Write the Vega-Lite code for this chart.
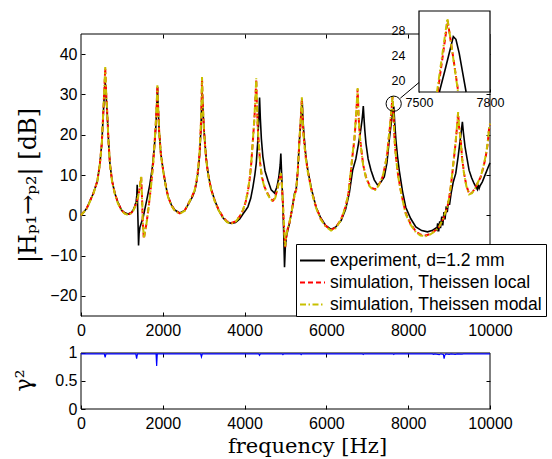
{
"$schema":"https://vega.github.io/schema/vega-lite/v6.json",
"width":409,"height":398,
"autosize":{"type":"none"},
"padding":{"left":81,"top":11,"right":62,"bottom":50},
"background":"white",
"config":{"view":{"stroke":null},"axis":{"grid":false,"labelFont":"Liberation Sans","labelFontSize":16,"labelColor":"black","tickColor":"black","domainColor":"black","titleFont":"DejaVu Serif","titleFontWeight":"normal","titleColor":"black","labelFlush":false,"labelOverlap":false}},
"datasets":{
"exp":[[0,0],[140,1.7],[300,5.4],[400,8.5],[463,12.9],[510,18],[544,25],[570,30],[593,33],[612,30],[642,25],[675,18],[707,12.9],[760,8.5],[829,5.4],[900,3.3],[992,1.3],[1070,0.6],[1154,0.3],[1230,0.7],[1276,1.3],[1317,2.3],[1350,3.5],[1365,5],[1374,7.6],[1385,2],[1400,-4],[1407,-7.5],[1420,-4.5],[1440,-3],[1520,-0.5],[1602,3.5],[1680,7.5],[1740,11.5],[1790,16.5],[1830,22],[1852,27],[1870,31.9],[1885,27],[1910,21.1],[1950,15.5],[2008,11.2],[2070,7.5],[2130,4.6],[2210,2.6],[2293,1.3],[2415,0.6],[2537,1.2],[2640,3],[2720,4.5],[2780,6],[2830,8.5],[2862,10.8],[2900,15],[2930,21],[2950,27],[2962,31],[2978,27],[3003,22],[3030,18],[3065,13.8],[3110,10.2],[3180,6.6],[3268,3.8],[3360,1.4],[3471,-0.6],[3570,-1.7],[3675,-2],[3780,-1.8],[3880,-0.9],[3960,0.3],[4030,1.3],[4081,2.1],[4150,4.2],[4203,7],[4250,10],[4285,12.9],[4320,18],[4345,23.5],[4366,29.2],[4385,24],[4410,19],[4447,14.5],[4500,11],[4569,8.7],[4650,6.3],[4732,5.5],[4790,7],[4837,9.5],[4870,12.5],[4886,15.3],[4910,9],[4935,3],[4955,-4],[4976,-12.9],[4995,-8],[5020,-5.5],[5050,-4],[5098,-2],[5160,1.5],[5220,5.4],[5261,6.4],[5300,11],[5341,18.6],[5380,24.5],[5407,28.8],[5425,24],[5445,21],[5463,18.6],[5500,14.5],[5545,11.2],[5640,6.3],[5748,2],[5860,-0.6],[5980,-2.5],[6114,-3.5],[6230,-2.9],[6360,-1.3],[6470,1.5],[6560,5.5],[6642,11.2],[6720,14],[6780,17.5],[6830,20.5],[6870,23.5],[6890,25.5],[6902,27.1],[6920,24],[6940,21],[6968,17.8],[7020,14],[7090,11.2],[7170,8.8],[7252,7.5],[7330,8.2],[7414,9.5],[7480,13],[7536,18.6],[7580,22.5],[7620,25.5],[7648,27],[7670,23],[7700,18.6],[7740,14.5],[7780,11.2],[7860,6],[7940,2],[8060,-0.8],[8187,-2.9],[8330,-3.8],[8472,-4.1],[8580,-3.8],[8675,-3.2],[8700,-3.6],[8720,-2],[8745,-4],[8770,-1.5],[8790,-3.2],[8820,-0.3],[8845,-2.5],[8875,0.8],[8900,-1],[8930,2.2],[8955,0.8],[8985,3.6],[9010,2.6],[9050,5.5],[9100,8.2],[9163,10.4],[9220,14.5],[9260,17.8],[9300,21],[9325,23.2],[9350,20.5],[9390,17],[9440,14],[9488,11.2],[9550,9.3],[9610,7.9],[9690,6.4],[9712,7.6],[9735,6.7],[9760,7.4],[9813,8.3],[9895,10.4],[9950,11.8],[10000,13]],
"loc":[[0,0],[140,1.7],[300,5.4],[400,8.5],[463,12.9],[510,18],[544,25.3],[570,31],[593,36.5],[612,31],[642,25.3],[675,18],[707,12.9],[760,8.5],[829,5.4],[900,3.2],[992,1.2],[1070,0.5],[1154,0.2],[1230,0.6],[1276,1.2],[1317,2.1],[1360,3.3],[1398,4.6],[1439,7],[1471,9.5],[1490,5],[1512,-2],[1537,-5.8],[1565,-4],[1602,-2],[1640,1],[1683,4.6],[1724,8.5],[1764,12.9],[1800,18],[1829,22.8],[1852,27.5],[1868,32],[1885,27],[1910,21.1],[1950,15.5],[2008,11.2],[2070,7.5],[2130,4.6],[2210,2.5],[2293,1.2],[2415,0.5],[2537,1.2],[2640,3.2],[2720,4.8],[2780,6.2],[2830,8.8],[2862,11.2],[2900,15.5],[2930,22],[2948,28],[2959,34],[2975,28],[3000,22.5],[3024,18.6],[3060,14],[3105,10.4],[3180,6.5],[3268,3.7],[3360,1.5],[3471,-0.4],[3570,-1.5],[3675,-1.9],[3780,-1.5],[3880,-0.3],[3959,1.2],[4030,3.5],[4081,6],[4125,9],[4163,12.9],[4203,18.6],[4240,24],[4265,29],[4285,33.7],[4300,28],[4320,22],[4342,18.6],[4380,13],[4423,9.5],[4490,7],[4569,5.3],[4630,4.2],[4691,3.6],[4750,4.5],[4813,7],[4860,9.2],[4886,10.4],[4915,7],[4950,0],[4975,-5],[4992,-7.9],[5015,-5.5],[5050,-3.5],[5098,-1.8],[5160,1.5],[5220,5],[5261,6.3],[5300,11],[5341,18.6],[5375,24],[5400,29],[5418,24],[5440,20],[5463,17.5],[5500,14],[5545,11],[5640,6],[5748,2],[5860,-0.8],[5980,-2.6],[6114,-3.6],[6230,-3],[6360,-1],[6470,2.2],[6540,5.5],[6602,11.2],[6640,15],[6683,18.6],[6725,24.5],[6764,31.3],[6785,25],[6815,20],[6846,17],[6900,12.5],[6968,9.5],[7050,7.5],[7120,6.7],[7195,6.5],[7280,7.5],[7374,9.5],[7440,12.5],[7490,15.5],[7520,18.6],[7560,22.5],[7595,26.5],[7618,29.5],[7640,25],[7665,19],[7700,14.5],[7760,9.5],[7840,5],[7940,0.5],[8050,-2],[8187,-4],[8300,-4.8],[8430,-5],[8550,-4.6],[8660,-3.8],[8756,-2.9],[8860,-0.8],[8959,2.1],[9000,4.2],[9041,7],[9080,10.5],[9122,14.5],[9160,18],[9190,21.5],[9220,25.3],[9245,21.8],[9284,18.6],[9320,14],[9366,10.4],[9420,7.5],[9488,5.4],[9560,5.6],[9640,6.8],[9720,8.5],[9773,9.5],[9840,12],[9895,14.5],[9940,17.5],[9976,21.3],[10000,22.5]],
"mod":[[0,0],[140,1.6],[300,5.3],[400,8.4],[463,12.8],[510,18],[544,25.5],[570,31.5],[593,36.8],[612,31.2],[642,25.2],[675,17.8],[707,12.7],[760,8.3],[829,5.2],[900,3],[992,1.1],[1070,0.4],[1154,0.1],[1230,0.5],[1276,1.1],[1317,2],[1360,3.2],[1398,4.7],[1439,7.2],[1471,9.8],[1490,5.2],[1512,-1.8],[1537,-5.7],[1565,-4],[1602,-2],[1640,1],[1683,4.5],[1724,8.4],[1764,12.8],[1800,18],[1829,23],[1852,28],[1868,32.3],[1885,27.2],[1910,21],[1950,15.3],[2008,11],[2070,7.3],[2130,4.5],[2210,2.4],[2293,1.1],[2415,0.4],[2537,1.1],[2640,3.1],[2720,4.8],[2780,6.3],[2830,9],[2862,11.4],[2900,15.8],[2930,22.5],[2948,28.5],[2959,34.3],[2975,28.2],[3000,22.4],[3024,18.4],[3060,13.8],[3105,10.2],[3180,6.3],[3268,3.5],[3360,1.3],[3471,-0.6],[3570,-1.7],[3675,-2.1],[3780,-1.6],[3880,-0.3],[3959,1.3],[4030,3.6],[4081,6.2],[4125,9.2],[4163,13.1],[4203,18.8],[4240,24.3],[4265,29.5],[4285,34],[4300,28.2],[4320,22],[4342,18.4],[4380,12.8],[4423,9.3],[4490,6.8],[4569,5.1],[4630,4],[4691,3.4],[4750,4.3],[4813,6.9],[4860,9.2],[4886,10.5],[4915,7.2],[4950,0.3],[4975,-4.8],[4992,-7.7],[5015,-5.4],[5050,-3.4],[5098,-1.7],[5160,1.5],[5220,5],[5261,6.3],[5300,11],[5341,18.8],[5375,24.3],[5400,29.3],[5418,24.2],[5440,20],[5463,17.4],[5500,13.8],[5545,10.8],[5640,5.8],[5748,1.8],[5860,-1],[5980,-2.8],[6114,-3.8],[6230,-3.2],[6360,-1.1],[6470,2.2],[6540,5.6],[6602,11.4],[6640,15.2],[6683,18.9],[6725,25],[6764,31.6],[6785,25.2],[6815,20],[6846,16.8],[6900,12.3],[6968,9.3],[7050,7.3],[7120,6.5],[7195,6.3],[7280,7.4],[7374,9.5],[7440,12.6],[7490,15.7],[7520,18.9],[7560,22.8],[7595,27],[7618,29.8],[7640,25.2],[7665,19],[7700,14.3],[7760,9.3],[7840,4.8],[7940,0.3],[8050,-2.2],[8187,-4.2],[8300,-5],[8430,-5.2],[8550,-4.7],[8660,-3.9],[8756,-2.9],[8860,-0.7],[8959,2.2],[9000,4.3],[9041,7.2],[9080,10.7],[9122,14.8],[9160,18.3],[9190,21.8],[9220,25.6],[9245,22],[9284,18.5],[9320,13.8],[9366,10.2],[9420,7.3],[9488,5.2],[9560,5.5],[9640,6.7],[9720,8.5],[9773,9.6],[9840,12.2],[9895,14.8],[9940,17.8],[9976,21.6],[10000,22.8]],
"iexp":[[7586,18.13],[7610,21.65],[7631,24.85],[7645,26.98],[7656,26.56],[7670,24.32],[7685,21.1],[7699,18.13]],
"iloc":[[7579,18.13],[7600,23.8],[7621,29.54],[7642,24.3],[7666,18.13]],
"imod":[[7576,18.13],[7598,24],[7620,29.9],[7641,24.5],[7665,18.13]],
"coh":[[0,0.985],[300,0.985],[570,0.985],[590,0.92],[610,0.985],[1340,0.985],[1360,0.9],[1380,0.985],[1835,0.985],[1850,0.77],[1865,0.985],[2925,0.985],[2945,0.93],[2965,0.985],[4345,0.985],[4365,0.96],[4385,0.985],[4920,0.985],[4937,0.97],[4955,0.985],[5365,0.985],[5383,0.97],[5400,0.985],[6880,0.985],[6900,0.975],[6920,0.985],[7630,0.985],[7648,0.975],[7665,0.985],[8590,0.985],[8620,0.975],[8650,0.985],[8760,0.97],[8800,0.985],[8860,0.975],[8878,0.9],[8895,0.96],[8920,0.985],[9000,0.975],[9050,0.985],[9150,0.975],[9200,0.985],[9320,0.98],[9350,0.985],[10000,0.985]],
"one":[{}]
},
"layer":[
{"layer":[
 {"data":{"name":"one"},"mark":{"type":"rect","fillOpacity":0,"stroke":"black","strokeWidth":1},
  "encoding":{
   "x":{"datum":0,"type":"quantitative","scale":{"domain":[0,10000],"nice":false,"zero":false},"axis":{"orient":"top","offset":-23,"values":[2000,4000,6000,8000],"labels":false,"domain":false,"tickSize":-4,"title":null}},
   "x2":{"datum":10000},
   "y":{"datum":-25,"type":"quantitative","scale":{"domain":[-48.085,50.71],"nice":false,"zero":false},"axis":{"orient":"right","values":[-20,-10,0,10,20,30,40],"labels":false,"domain":false,"tickSize":-4,"title":null}},
   "y2":{"datum":45}}},
 {"data":{"name":"exp"},"mark":{"type":"line","color":"black","strokeWidth":1.6},
  "encoding":{
   "x":{"field":"0","type":"quantitative","scale":{"domain":[0,10000],"nice":false,"zero":false},"axis":{"orient":"bottom","offset":-93,"values":[0,2000,4000,6000,8000,10000],"format":"d","domain":false,"tickSize":-4,"labelPadding":10,"title":null}},
   "y":{"field":"1","type":"quantitative","scale":{"domain":[-48.085,50.71],"nice":false,"zero":false},"axis":{"orient":"left","values":[-20,-10,0,10,20,30,40],"format":"d","domain":false,"tickSize":-4,"labelPadding":8,"title":"|Hₚ₁→ₚ₂| [dB]","titleFontSize":24,"titleX":-41,"titleY":174}}}},
 {"data":{"name":"loc"},"mark":{"type":"line","color":"#ff0000","strokeWidth":2,"strokeDash":[5,3]},
  "encoding":{"x":{"field":"0","type":"quantitative","axis":null},"y":{"field":"1","type":"quantitative","axis":null}}},
 {"data":{"name":"mod"},"mark":{"type":"line","color":"#c8c000","strokeWidth":2,"strokeDash":[6,2.5,1.5,2.5]},
  "encoding":{"x":{"field":"0","type":"quantitative","axis":null},"y":{"field":"1","type":"quantitative","axis":null}}},
 {"data":{"name":"one"},"mark":{"type":"point","shape":"circle","size":232,"filled":false,"stroke":"black","strokeWidth":1,"opacity":1},
  "encoding":{"x":{"datum":7645,"type":"quantitative","axis":null},"y":{"datum":27.7,"type":"quantitative","axis":null}}},
 {"data":{"name":"one"},"mark":{"type":"rule","color":"black","strokeWidth":1},
  "encoding":{"x":{"datum":7807,"type":"quantitative","axis":null},"x2":{"datum":8264},"y":{"datum":29.06,"type":"quantitative","axis":null},"y2":{"datum":32.96}}},
 {"data":{"values":[{"k":"e"},{"k":"l"},{"k":"m"}]},"mark":{"type":"line","opacity":0},
  "encoding":{"x":{"datum":0,"type":"quantitative","axis":null},"y":{"datum":0,"type":"quantitative","axis":null},
   "color":{"field":"k","type":"nominal","scale":{"domain":["e","l","m"],"range":["black","#ff0000","#c8c000"]},
     "legend":{"orient":"none","legendX":215,"legendY":233,"title":null,"strokeColor":"black","fillColor":"white","padding":3,"labelFont":"Liberation Sans","labelFontSize":17.5,"labelColor":"black","labelLimit":400,"symbolType":"stroke","symbolSize":625,"symbolStrokeWidth":2,"symbolOpacity":1,"rowPadding":0,"labelOffset":4,"cornerRadius":0,
       "labelExpr":"datum.value == 'e' ? 'experiment, d=1.2 mm' : datum.value == 'l' ? 'simulation, Theissen local' : 'simulation, Theissen modal'"}},
   "strokeDash":{"field":"k","type":"nominal","scale":{"domain":["e","l","m"],"range":[[1,0],[5,3],[6,2.5,1.5,2.5]]}}}}
 ],
 "resolve":{"axis":{"x":"independent","y":"independent"}}},
{"layer":[
 {"data":{"name":"one"},"mark":{"type":"rect","fill":"white","stroke":"black","strokeWidth":1.2},
  "encoding":{
   "x":{"datum":7500,"type":"quantitative","scale":{"domain":[6071.8,7800],"nice":false,"zero":false},"axis":{"orient":"bottom","offset":-317,"values":[7500,7800],"format":"d","domain":false,"tickSize":-3,"labelPadding":7,"labelFontSize":12.5,"title":null}},
   "x2":{"datum":7800},
   "y":{"datum":18.128,"type":"quantitative","scale":{"domain":[-32.59,31.088],"nice":false,"zero":false},"axis":{"orient":"left","offset":-338,"values":[20,24,28],"format":"d","domain":false,"tickSize":-3,"labelPadding":17,"labelFontSize":12.5,"title":null}},
   "y2":{"datum":31.088}}},
 {"data":{"name":"iexp"},"mark":{"type":"line","color":"black","strokeWidth":1.6},
  "encoding":{"x":{"field":"0","type":"quantitative","axis":null},"y":{"field":"1","type":"quantitative","axis":null}}},
 {"data":{"name":"iloc"},"mark":{"type":"line","color":"#ff0000","strokeWidth":2,"strokeDash":[5,3]},
  "encoding":{"x":{"field":"0","type":"quantitative","axis":null},"y":{"field":"1","type":"quantitative","axis":null}}},
 {"data":{"name":"imod"},"mark":{"type":"line","color":"#c8c000","strokeWidth":2,"strokeDash":[6,2.5,1.5,2.5]},
  "encoding":{"x":{"field":"0","type":"quantitative","axis":null},"y":{"field":"1","type":"quantitative","axis":null}}}
 ],
 "resolve":{"axis":{"x":"independent","y":"independent"}}},
{"layer":[
 {"data":{"name":"one"},"mark":{"type":"rect","fillOpacity":0,"stroke":"black","strokeWidth":1},
  "encoding":{
   "x":{"datum":0,"type":"quantitative","scale":{"domain":[0,10000],"nice":false,"zero":false},"axis":{"orient":"top","offset":-342,"values":[2000,4000,6000,8000],"labels":false,"domain":false,"tickSize":-4,"title":null}},
   "x2":{"datum":10000},
   "y":{"datum":0,"type":"quantitative","scale":{"domain":[0,7.107],"nice":false,"zero":false},"axis":{"orient":"right","values":[0.5],"labels":false,"domain":false,"tickSize":-4,"title":null}},
   "y2":{"datum":1}}},
 {"data":{"name":"coh"},"mark":{"type":"line","color":"#0000ff","strokeWidth":1.2},
  "encoding":{
   "x":{"field":"0","type":"quantitative","scale":{"domain":[0,10000],"nice":false,"zero":false},"axis":{"orient":"bottom","values":[0,2000,4000,6000,8000,10000],"format":"d","domain":false,"tickSize":-4,"labelPadding":10,"title":"frequency [Hz]","titleFontSize":21,"titleX":226,"titleY":26,"titleBaseline":"top","titleAlign":"center"}},
   "y":{"field":"1","type":"quantitative","scale":{"domain":[0,7.107],"nice":false,"zero":false},"axis":{"orient":"left","values":[0,0.5,1],"format":"~g","domain":false,"tickSize":-4,"labelPadding":8,"title":"γ²","titleFontSize":22,"titleX":-46,"titleY":369}}}}
 ],
 "resolve":{"axis":{"x":"independent","y":"independent"}}}
],
"resolve":{"scale":{"x":"independent","y":"independent"}}
}
